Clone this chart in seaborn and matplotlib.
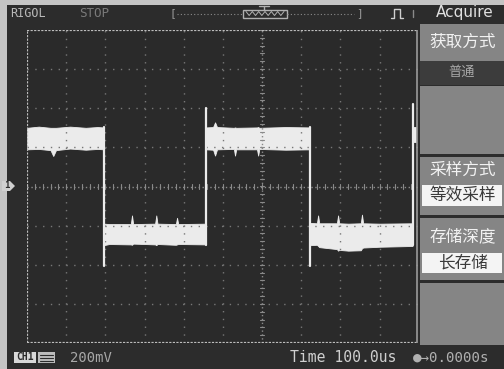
import numpy as np
import pandas as pd
import seaborn as sns
import matplotlib.pyplot as plt
from matplotlib.patches import Rectangle, Polygon

# screen read-out (x in divisions from trigger point, y in divisions from CH1 ground)
edge_t = [-4.04, -4.04, -1.43, -1.43, 1.22, 1.22, 3.84, 3.84]
edge_v = [1.51, -2.03, -1.49, 2.00, 1.51, -2.03, -1.49, 2.10]
edge_id = [0, 0, 1, 1, 2, 2, 3, 3]

# noisy plateaus: upper and lower edge of the bright band
seg1_t = [-6.00, -5.70, -5.40, -5.33, -5.26, -4.90, -4.50, -4.20, -4.04]
seg1_top = [1.50, 1.53, 1.50, 1.50, 1.50, 1.53, 1.50, 1.52, 1.51]
seg1_bot = [0.95, 0.96, 0.93, 0.78, 0.93, 0.97, 0.94, 0.96, 0.95]

seg2_t = [-4.04, -3.90, -3.35, -3.32, -3.29, -2.73, -2.70, -2.67, -2.20, -2.17, -2.14, -1.43]
seg2_top = [-0.95, -0.96, -0.96, -0.74, -0.96, -0.95, -0.74, -0.95, -0.96, -0.80, -0.96, -0.95]
seg2_bot = [-1.50, -1.47, -1.48, -1.49, -1.46, -1.48, -1.50, -1.47, -1.49, -1.48, -1.47, -1.48]

seg3_t = [-1.43, -1.25, -1.20, -1.15, -0.72, -0.69, -0.66, -0.13, -0.10, -0.07, 0.60, 1.22]
seg3_top = [1.51, 1.52, 1.64, 1.52, 1.50, 1.51, 1.50, 1.51, 1.52, 1.50, 1.52, 1.51]
seg3_bot = [0.95, 0.94, 0.79, 0.95, 0.96, 0.79, 0.95, 0.95, 0.79, 0.96, 0.94, 0.95]

seg4_t = [1.22, 1.40, 1.43, 1.46, 1.91, 1.94, 1.97, 2.20, 2.52, 2.55, 2.58, 3.00, 3.84]
seg4_top = [-0.93, -0.94, -0.74, -0.94, -0.94, -0.74, -0.94, -0.95, -0.94, -0.72, -0.94, -0.95, -0.94]
seg4_bot = [-1.50, -1.49, -1.52, -1.55, -1.60, -1.64, -1.62, -1.64, -1.63, -1.58, -1.56, -1.54, -1.52]

seg5_t = [3.84, 3.93]
seg5_top = [1.51, 1.51]
seg5_bot = [1.15, 1.15]

bands = [(seg1_t, seg1_top, seg1_bot), (seg2_t, seg2_top, seg2_bot),
         (seg3_t, seg3_top, seg3_bot), (seg4_t, seg4_top, seg4_bot),
         (seg5_t, seg5_top, seg5_bot)]

menu_titles = ["获取方式", "采样方式", "存储深度"]
menu_values = ["普通", "等效采样", "长存储"]

sns.set_theme(style="dark")
plt.rcParams['font.family'] = ['Noto Sans CJK SC', 'DejaVu Sans']

W, H = 504, 369
fig = plt.figure(figsize=(W / 100, H / 100), dpi=100)
fig.patch.set_facecolor("#c4c4c4")

# frame / panels in pixel coordinates
bg = fig.add_axes([0, 0, 1, 1])
bg.set_xlim(0, W)
bg.set_ylim(H, 0)
bg.axis("off")
bg.add_patch(Rectangle((7, 5), W - 7, H - 5, color="#2c2c2c", lw=0))

# top status bar
mono = "DejaVu Sans Mono"
ty = 13.5
bg.text(10, ty, "RIGOL", color="#b8b8b8", fontsize=8.5, family=mono, va="center")
bg.text(79, ty, "STOP", color="#7a7a7a", fontsize=9, family=mono, va="center")
bg.text(170, ty, "[", color="#9a9a9a", fontsize=8, family=mono, va="center")
bg.text(356, ty, "]", color="#9a9a9a", fontsize=8, family=mono, va="center")
bg.plot([177, 243], [ty, ty], color="#8a8a8a", lw=0.8, ls=(0, (1, 2)))
bg.plot([287, 354], [ty, ty], color="#8a8a8a", lw=0.8, ls=(0, (1, 2)))
bg.add_patch(Rectangle((243, ty - 4), 44, 8, fill=False, ec="#b0b0b0", lw=1))
bg.plot(np.linspace(246, 284, 13), [ty - 2, ty + 2] * 6 + [ty - 2], color="#b0b0b0", lw=0.7)
bg.plot([264, 264], [6, ty - 4], color="#b0b0b0", lw=1)
bg.plot([259, 269], [6, 6], color="#b0b0b0", lw=1)
bg.plot([391, 394, 394, 400, 400, 403], [18, 18, 9, 9, 18, 18], color="#cfcfcf", lw=1)
bg.plot([413, 413], [10, 17], color="#8a8a8a", lw=1)

# right soft-menu
bg.text(465, 13, "Acquire", color="#e0e0e0", fontsize=11, ha="center", va="center",
        family=["DejaVu Sans"])
panels = [(24, 61), (86, 154), (157, 215), (218, 280), (283, 345)]
for y0, y1 in panels:
    bg.add_patch(Rectangle((420, y0), 84, y1 - y0, color="#858585", lw=0))
bg.add_patch(Rectangle((420, 61), 84, 24, color="#3c3c3c", lw=0))
title_y = [42, 170, 237]
value_box = [None, (185, 206), (253, 273)]
for i in range(3):
    bg.text(463, title_y[i], menu_titles[i], color="#f2f2f2", fontsize=12,
            ha="center", va="center")
    if value_box[i] is None:
        bg.text(462, 72, menu_values[i], color="#a8a8a8", fontsize=9.5,
                ha="center", va="center")
    else:
        y0, y1 = value_box[i]
        bg.add_patch(Rectangle((422, y0), 80, y1 - y0, color="#f4f4f4", lw=0))
        bg.text(463, (y0 + y1) / 2, menu_values[i], color="#3a3a3a", fontsize=12,
                ha="center", va="center")

# bottom status bar
by = 357.5
bg.add_patch(Rectangle((14, by - 5.5), 22, 11, color="#d8d8d8", lw=0))
bg.text(25, by, "CH1", color="#2c2c2c", fontsize=7, family=mono, weight="bold",
        ha="center", va="center")
bg.add_patch(Rectangle((38, by - 5.5), 17, 11, color="#bdbdbd", lw=0))
for yy in (by - 3, by, by + 3):
    bg.plot([40, 53], [yy, yy], color="#2c2c2c", lw=0.8)
bg.text(70, by, "200mV", color="#a8a8a8", fontsize=10, family=mono, va="center")
bg.text(290, by, "Time 100.0us", color="#d0d0d0", fontsize=10.6, family=mono, va="center")
bg.text(413, by, "\u25cf\u21920.0000s", color="#b0b0b0", fontsize=10.2, family=mono,
        va="center")

# CH1 ground marker
bg.add_patch(Polygon([[2, 181], [10, 181], [15, 186], [10, 191], [2, 191]],
                     color="#d0d0d0", lw=0))
bg.text(7, 186, "1", color="#2c2c2c", fontsize=6.5, family=mono, weight="bold",
        ha="center", va="center")

# trigger position marker
bg.add_patch(Polygon([[256, 31], [268, 31], [262, 37]], color="#bdbdbd", lw=0))
bg.add_patch(Polygon([[257, 38], [267, 38], [267, 46], [262, 51], [257, 46]],
                     color="#bdbdbd", lw=0))
bg.text(262, 43, "T", color="#2c2c2c", fontsize=6.5, family=mono, weight="bold",
        ha="center", va="center")

# scope screen
ax = fig.add_axes([27 / W, (H - 343) / H, (418 - 27) / W, (343 - 30) / H])
ax.set_facecolor("#2a2a2a")
ax.set_xlim(-6, 3.98)
ax.set_ylim(-4, 4)
for s in ax.spines.values():
    s.set_visible(False)
ax.set_xticks([])
ax.set_yticks([])

grid_c = "#777777"
for gx in range(-5, 4):
    if gx != 0:
        ax.axvline(gx, color=grid_c, lw=1, ls=(0, (1, 4.6)))
for gy in range(-3, 4):
    if gy != 0:
        ax.axhline(gy, color=grid_c, lw=1, ls=(0, (1, 4.6)))
ax.axvline(0, color="#8a8a8a", lw=1, ls=(0, (1, 1.8)))
ax.axhline(0, color="#8a8a8a", lw=1, ls=(0, (1, 1.8)))
for tx in np.arange(-6, 3.95, 0.2):
    ax.plot([tx, tx], [-0.06, 0.06], color="#8a8a8a", lw=0.8)
for ty2 in np.arange(-4, 4.01, 0.2):
    ax.plot([-0.05, 0.05], [ty2, ty2], color="#8a8a8a", lw=0.8)

# screen border
ax.axvline(-6, color="#bdbdbd", lw=1.6, ls=(0, (1, 0.6)))
ax.axhline(4, color="#bdbdbd", lw=1.6, ls=(0, (1, 0.6)))
ax.axhline(-4, color="#bdbdbd", lw=1.6, ls=(0, (1, 0.6)))
ax.axvline(3.96, color="#9a9a9a", lw=1.2)

# waveform
trace = "#ebebeb"
for t, top, bot in bands:
    ax.fill_between(t, bot, top, color=trace, lw=0.6, edgecolor=trace)

edges = pd.DataFrame({"t": edge_t, "v": edge_v, "edge": edge_id})
sns.lineplot(data=edges, x="t", y="v", units="edge", estimator=None, sort=False,
             color=trace, lw=1.6, ax=ax, legend=False)
ax.set_xlabel("")
ax.set_ylabel("")

fig.savefig("out.png", dpi=100, facecolor=fig.get_facecolor())
